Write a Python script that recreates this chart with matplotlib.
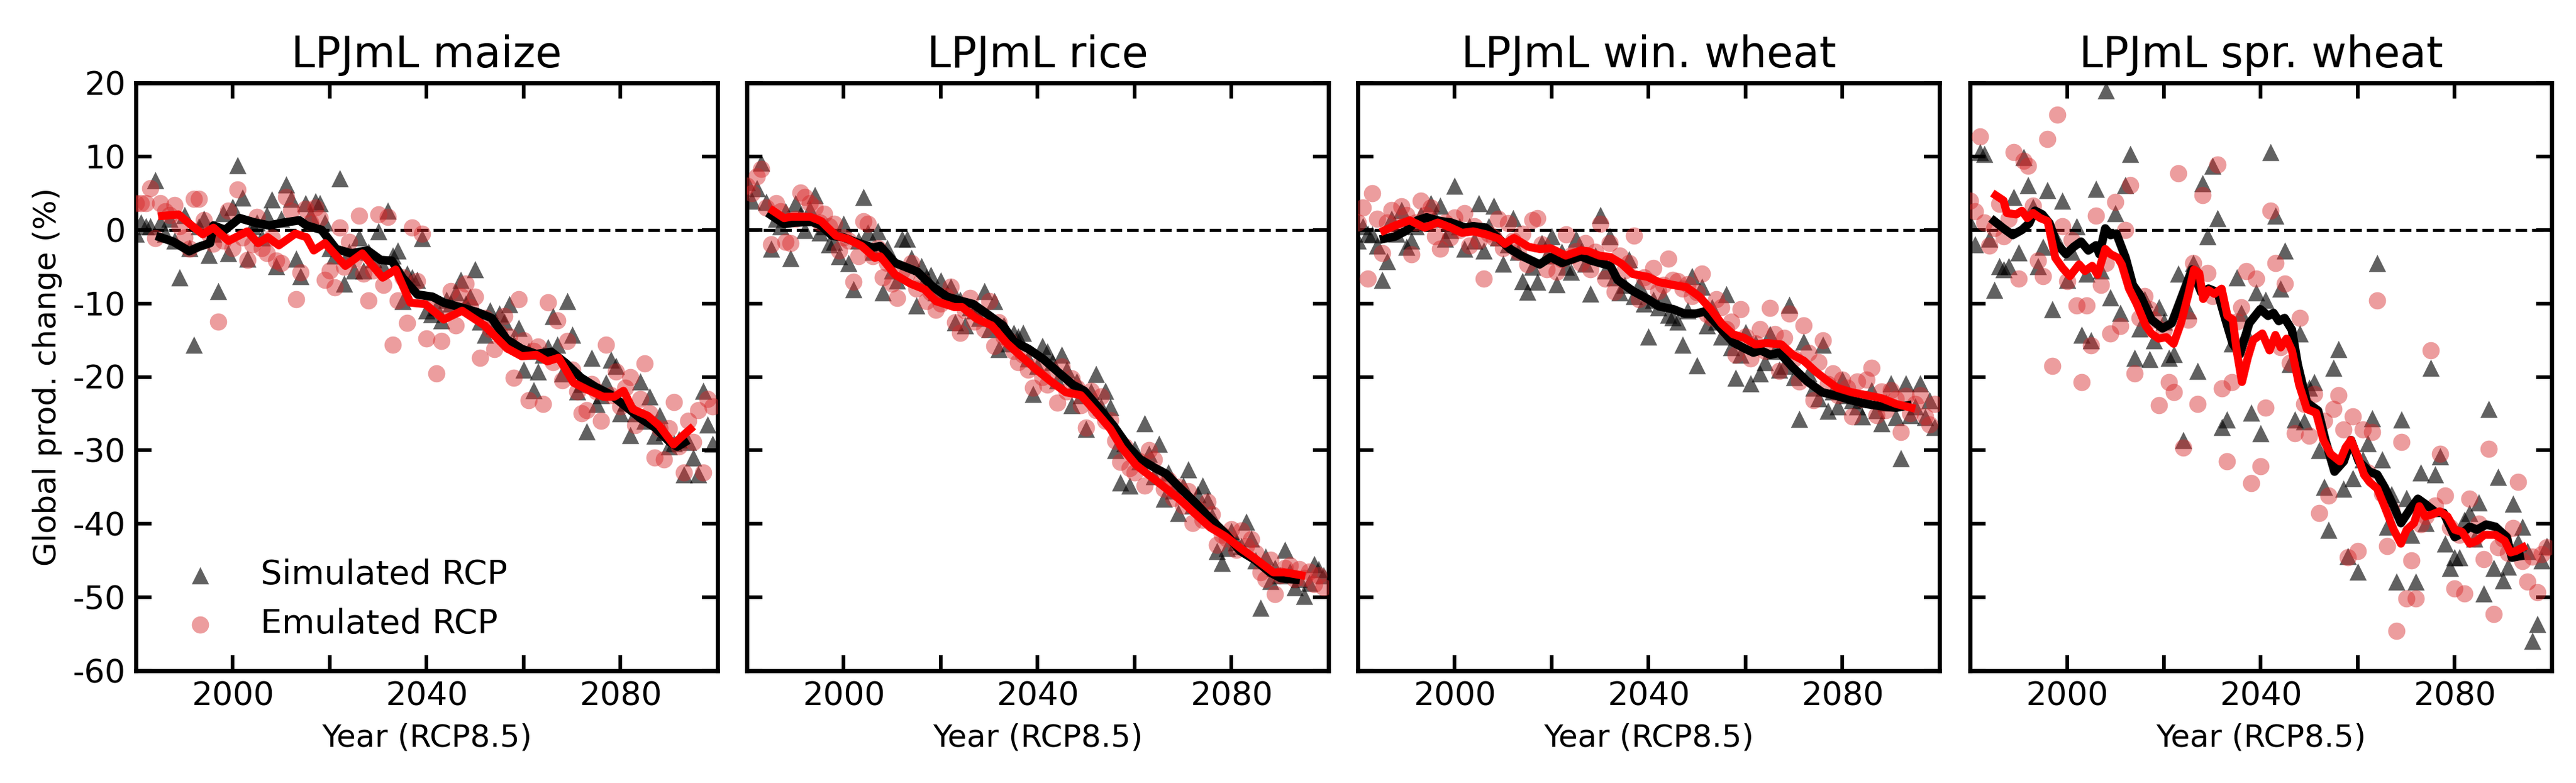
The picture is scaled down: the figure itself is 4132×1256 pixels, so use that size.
import numpy as np
import matplotlib
matplotlib.use("Agg")
import matplotlib.pyplot as plt

plt.rcParams['font.family'] = ['DejaVu Sans']
plt.rcParams['axes.unicode_minus'] = False

years = np.arange(1980, 2100)
titles = ["LPJmL maize", "LPJmL rice", "LPJmL win. wheat", "LPJmL spr. wheat"]
y_ticks = [20, 10, 0, -10, -20, -30, -40, -50, -60]
y_tick_labels = ["20", "10", "0", "-10", "-20", "-30", "-40", "-50", "-60"]
x_ticks = [2000, 2020, 2040, 2060, 2080]
x_tick_labels = ["2000", "", "2040", "", "2080"]

# ---------------- maize ----------------
maize_sim = [
    -0.5, 1.0, 0.5, 0.5, 6.8, 1.0, -0.5, 1.5, -1.5, -6.5,
    2.0, -2.5, -15.6, 0.5, 1.5, -3.4, -0.5, -8.3, 2.3, -3.2,
    3.1, 8.8, 4.4, -3.9, 0.5, 1.0, -1.0, 2.0, 4.1, -4.9,
    1.5, 6.2, 4.2, -3.9, -6.3, 3.6, 2.0, 3.9, 3.6, 1.0,
    -2.5, -3.5, 7.0, -7.3, -3.0, -5.5, -1.0, -5.5, -3.0, -4.0,
    -0.2, -5.0, 2.6, -3.5, -2.8, -9.7, -6.0, -6.5, -6.8, -1.1,
    -11.0, -11.5, -10.5, -12.3, -9.5, -10.0, -8.5, -6.8, -10.0, -9.1,
    -5.4, -12.5, -14.3, -11.0, -13.0, -11.4, -12.5, -10.1, -15.5, -13.3,
    -19.0, -16.5, -21.8, -19.3, -17.0, -16.0, -11.7, -15.6, -19.5, -9.7,
    -14.3, -22.0, -21.0, -27.4, -17.4, -23.7, -22.5, -20.8, -17.7, -18.5,
    -25.0, -23.5, -27.9, -25.0, -20.6, -26.0, -22.7, -28.0, -25.2, -27.5,
    -29.5, -29.0, -28.5, -33.3, -28.9, -31.0, -33.3, -21.9, -26.5, -29.1]
maize_emu = [
    3.6, 3.6, 3.6, 5.7, -1.1, 3.6, 2.5, 2.0, 3.4, 0.5,
    -1.0, -2.6, 4.2, 4.2, 1.3, -0.5, -1.9, -12.5, -1.5, 2.6,
    -2.5, 5.5, -1.0, -4.1, -2.0, 1.8, -2.5, -3.2, -1.0, -4.2,
    -4.5, 4.5, 2.6, -9.4, -5.8, 2.9, 1.0, 3.0, 1.6, -6.8,
    -5.5, -7.8, 0.3, -5.0, -1.6, -4.0, 1.9, -6.0, -9.6, -5.5,
    2.1, -7.5, 1.8, -15.6, -9.6, -6.5, -12.7, 0.3, -7.0, -0.5,
    -14.8, -10.0, -19.5, -15.1, -11.0, -8.3, -13.0, -9.0, -7.3, -10.5,
    -9.1, -17.4, -12.0, -13.5, -16.2, -14.0, -11.7, -14.5, -20.1, -9.4,
    -15.0, -23.2, -16.5, -15.9, -23.7, -9.9, -18.0, -12.3, -20.5, -15.1,
    -19.0, -22.0, -25.0, -24.5, -21.0, -22.0, -26.0, -15.6, -22.5, -19.3,
    -24.0, -21.5, -20.0, -26.6, -23.0, -18.2, -25.0, -31.0, -27.0, -31.2,
    -27.0, -23.4, -29.5, -33.0, -26.0, -28.9, -24.5, -33.0, -23.0, -24.0]
maize_sim_line_x = [1985, 1987.7, 1991, 1993, 1995.3, 1996, 1998.4, 2001.4, 2004.5, 2007.5,
                    2010.6, 2013.7, 2015.2, 2018.3, 2021.3, 2024.4, 2027.8, 2030.5, 2032.8, 2035,
                    2038.1, 2041.2, 2043.5, 2047.3, 2050.4, 2053.4, 2056.5, 2059.6, 2062.6, 2065.7,
                    2068.8, 2071.8, 2074.9, 2077.9, 2081, 2084, 2087.1, 2090.2, 2091.7, 2093.2]
maize_sim_line_y = [-1.0, -1.6, -2.9, -2.3, -1.8, 0.6, 0.0, 1.6, 1.0, 0.6,
                    1.0, 1.3, 0.6, 0.0, -2.6, -3.2, -2.8, -4.1, -4.2, -6.5,
                    -8.8, -9.1, -9.9, -10.6, -11.2, -12.0, -14.9, -16.2, -16.9, -16.6,
                    -18.2, -20.1, -21.4, -22.4, -24.0, -25.6, -26.9, -28.9, -29.5, -28.9]
maize_emu_line_x = [1985.4, 1988.8, 1991.5, 1993.8, 1996, 1999.1, 2003, 2005.2, 2007.2, 2009.5,
                    2012.9, 2015.2, 2016.7, 2019, 2023.2, 2026.7, 2030.9, 2033.6, 2036.6, 2039.7,
                    2043.5, 2047.3, 2051.9, 2056.5, 2059.6, 2062.6, 2064.9, 2067.2, 2070.3, 2073.3,
                    2076.4, 2078.7, 2080.6, 2082.5, 2085.6, 2087.9, 2090.9, 2092.5, 2094.4]
maize_emu_line_y = [1.9, 2.1, 0.6, -0.6, 0.3, -1.5, -0.2, -1.8, -1.0, -2.1,
                    -0.5, -1.0, -2.8, -1.8, -4.9, -3.2, -6.5, -5.4, -9.9, -10.1,
                    -12.2, -11.0, -13.0, -16.1, -17.2, -17.0, -17.9, -17.4, -20.8, -21.8,
                    -22.7, -22.7, -21.9, -24.4, -25.3, -26.6, -29.2, -28.2, -27.1]

# ---------------- rice ----------------
rice_sim = [
    6.5, 4.0, 5.7, 9.1, 3.8, -2.6, 1.5, 0.5, 2.5, -3.8,
    3.6, 2.0, 0.0, 2.8, 4.7, -0.4, 0.5, -2.0, -1.6, -3.6,
    0.8, -4.5, -8.1, -1.5, 4.5, -0.4, -3.0, -0.2, -8.5, -2.5,
    -5.5, -6.9, -1.2, -1.2, -3.8, -10.3, -4.9, -6.5, -6.1, -8.5,
    -6.9, -9.0, -7.7, -12.6, -9.5, -13.0, -10.5, -11.0, -12.0, -8.3,
    -13.5, -9.7, -16.2, -13.0, -15.5, -14.0, -14.5, -14.0, -17.5, -22.3,
    -18.5, -15.8, -16.6, -18.0, -20.5, -17.0, -19.0, -23.9, -20.6, -22.5,
    -27.1, -22.0, -19.6, -24.0, -21.9, -24.1, -30.0, -34.4, -29.0, -34.8,
    -29.8, -31.5, -26.3, -30.5, -33.5, -29.1, -36.6, -33.0, -35.5, -38.5,
    -34.8, -32.6, -37.5, -36.0, -34.8, -36.8, -39.0, -43.7, -45.3, -43.3,
    -41.0, -42.5, -43.0, -39.7, -42.0, -45.0, -51.4, -44.5, -47.8, -46.0,
    -47.0, -43.5, -46.5, -48.6, -47.5, -49.8, -48.0, -45.5, -46.2, -47.0]
rice_emu = [
    6.0, 5.0, 7.3, 8.3, 3.0, -2.0, 3.6, 2.5, -1.6, -1.8,
    1.5, 5.1, 4.5, 3.6, 3.0, 1.0, 2.2, 0.5, 0.8, -2.8,
    -1.0, -1.5, -7.1, -3.6, 1.2, 0.8, -3.6, -2.5, -6.5, -4.5,
    -7.3, -9.3, -5.5, -6.0, -4.5, -8.0, -7.0, -9.7, -8.5, -10.9,
    -10.0, -9.0, -7.7, -12.6, -14.0, -11.0, -9.3, -12.5, -11.5, -13.5,
    -9.7, -15.8, -12.6, -14.5, -15.0, -16.5, -18.0, -17.0, -19.0, -21.5,
    -18.5, -20.0, -21.1, -19.5, -23.5, -18.6, -22.0, -20.2, -21.5, -23.9,
    -26.9, -21.9, -24.5, -22.7, -26.0, -25.9, -28.7, -31.6, -29.5, -32.4,
    -33.0, -31.5, -34.8, -30.0, -31.2, -33.5, -35.2, -34.0, -36.5, -35.0,
    -37.5, -35.6, -39.9, -38.0, -39.5, -37.0, -38.7, -42.9, -41.5, -42.0,
    -40.7, -43.5, -40.9, -43.0, -42.1, -44.0, -46.6, -47.5, -44.9, -49.6,
    -47.0, -46.0, -45.7, -47.5, -46.2, -47.4, -46.5, -48.2, -47.0, -48.6]
rice_sim_line_x = [1985, 1987.7, 1990, 1993.4, 1995.3, 1997.6, 1999.9, 2003, 2006, 2007.5,
                   2010.6, 2012.9, 2015.2, 2018.3, 2021.3, 2024.4, 2026.7, 2029.7, 2032.8, 2035.1,
                   2038.1, 2041.2, 2044.3, 2047.3, 2049.6, 2052.7, 2055.7, 2058.8, 2061.1, 2064.2,
                   2066.5, 2069.5, 2072.6, 2075.6, 2078.7, 2081.8, 2084.8, 2087.9, 2090.2, 2093.2]
rice_sim_line_y = [2.0, 0.8, 1.0, 1.1, 0.6, -0.8, -1.0, -1.8, -2.4, -2.2,
                   -4.5, -5.1, -5.7, -7.7, -9.1, -9.7, -10.1, -11.5, -13.0, -15.2,
                   -16.2, -17.6, -19.4, -21.1, -21.9, -24.3, -26.7, -29.6, -31.2, -32.4,
                   -33.2, -35.2, -37.2, -39.3, -41.3, -43.7, -44.9, -46.6, -47.4, -47.6]
rice_emu_line_x = [1985.4, 1987.7, 1989.2, 1993, 1995.3, 1998.4, 2000.7, 2003.7, 2006.4, 2007.5,
                   2010.6, 2013.7, 2016.7, 2019, 2022.8, 2024.4, 2027.4, 2030.5, 2033.6, 2036.6,
                   2039.7, 2042.7, 2045.8, 2048.9, 2051.9, 2055, 2057.3, 2060.3, 2063.4, 2066.5,
                   2069.5, 2072.6, 2075.6, 2078.7, 2081.8, 2084.8, 2088.6, 2090.9, 2094.4]
rice_emu_line_y = [2.6, 1.6, 1.8, 1.8, 1.2, -0.8, -1.2, -2.2, -3.8, -3.6,
                   -6.1, -7.3, -8.1, -9.7, -10.5, -10.5, -12.1, -13.0, -15.4, -17.2,
                   -19.0, -20.6, -22.1, -22.5, -24.7, -27.1, -29.6, -32.0, -33.6, -35.2,
                   -36.8, -38.7, -40.5, -41.7, -43.3, -44.7, -46.6, -46.6, -47.0]

# ---------------- winter wheat ----------------
wwheat_sim = [
    -1.5, 0.5, -0.5, -0.6, -2.1, -6.8, -4.3, 1.5, -0.5, 2.7,
    -2.3, -1.5, 0.5, 2.0, 1.0, 3.6, 1.5, 3.3, -1.2, 0.0,
    6.0, 0.5, -2.6, 0.5, -1.5, 3.6, -2.8, 0.5, 3.3, -1.0,
    -4.6, -2.0, 1.6, -3.0, -7.0, -8.4, -5.0, -7.1, -1.8, -3.5,
    -0.9, -7.4, -3.0, -5.0, -5.7, -1.2, -3.0, -4.6, -8.7, -3.5,
    2.0, -5.5, -0.9, -6.5, -8.5, -7.5, -4.0, -9.0, -7.5, -10.0,
    -14.5, -9.5, -10.5, -9.0, -11.6, -11.9, -12.5, -15.6, -11.0, -6.3,
    -18.4, -7.7, -13.0, -10.5, -12.5, -14.5, -8.8, -16.0, -20.1, -17.0,
    -13.9, -20.9, -15.5, -19.5, -18.0, -14.2, -16.5, -19.0, -18.5, -10.2,
    -20.0, -25.7, -15.2, -19.5, -21.5, -22.9, -15.6, -24.6, -22.0, -24.0,
    -20.4, -22.5, -23.2, -24.0, -25.4, -23.0, -21.8, -24.5, -26.3, -23.5,
    -20.9, -25.5, -31.1, -20.9, -25.2, -24.0, -20.9, -25.5, -23.2, -26.8]
wwheat_emu = [
    1.0, 3.0, -6.6, 5.0, 1.5, -3.2, 1.0, 2.7, 0.5, 3.2,
    2.0, -3.3, 1.0, 4.0, 2.0, 3.0, -0.9, -2.6, 1.0, -1.0,
    1.7, 0.0, 2.3, -2.1, 0.5, -1.5, -6.6, -0.5, -1.0, 1.5,
    -2.5, 0.9, -1.5, -3.0, -0.5, -4.7, 1.3, 1.6, -2.0, -5.4,
    -3.5, -5.7, -4.0, -0.6, -3.5, -2.9, -4.5, -1.8, -5.4, -3.0,
    0.8, -6.6, -1.8, -8.4, -3.5, -5.5, -4.5, -0.8, -9.4, -6.5,
    -7.0, -5.2, -8.3, -7.5, -3.9, -6.8, -7.0, -8.0, -7.4, -9.0,
    -8.5, -6.0, -11.5, -12.0, -9.4, -10.5, -13.5, -12.5, -17.0, -10.8,
    -14.5, -17.5, -15.5, -13.5, -16.5, -10.6, -14.2, -19.2, -14.7, -11.4,
    -17.5, -20.6, -13.0, -16.7, -23.2, -18.0, -15.0, -21.0, -19.5, -22.5,
    -20.4, -21.5, -25.4, -20.6, -23.0, -20.4, -18.8, -25.2, -22.0, -24.5,
    -21.8, -23.0, -27.5, -22.6, -25.0, -23.7, -22.5, -25.4, -26.5, -23.7]
wwheat_sim_line_x = [1985.4, 1987.7, 1990, 1992.3, 1994.2, 1996.9, 1999.2, 2002.2, 2003.8, 2006.4,
                     2009.1, 2011.4, 2013.7, 2017.5, 2019.8, 2022.1, 2026, 2028.3, 2032.1, 2033.6,
                     2036.7, 2039.8, 2042.1, 2045.1, 2047.4, 2049.7, 2051.6, 2053.6, 2055.9, 2057.4,
                     2059.7, 2061.6, 2063.1, 2065.1, 2067, 2069.7, 2072.7, 2075.8, 2078.9, 2081.9,
                     2085, 2088, 2091.1, 2093.4]
wwheat_sim_line_y = [-1.2, -0.9, -0.1, 1.3, 1.7, 1.2, 1.0, 0.3, 0.5, 0.3,
                     -1.2, -2.6, -3.5, -4.7, -3.7, -4.5, -3.6, -4.2, -4.9, -6.8,
                     -8.3, -9.4, -10.4, -10.8, -11.4, -11.4, -11.1, -12.5, -14.2, -15.3,
                     -16.1, -16.7, -16.4, -17.0, -16.7, -18.7, -20.6, -22.1, -22.6, -23.2,
                     -23.7, -24.0, -24.2, -23.9]
wwheat_emu_line_x = [1985.4, 1987.7, 1990.7, 1993.8, 1996.5, 1999.2, 2001.5, 2003.8, 2006.4, 2009.1,
                     2010.3, 2012.2, 2015.2, 2017.5, 2019.8, 2022.9, 2026, 2027.5, 2029.8, 2032.1,
                     2034.4, 2036.7, 2039.8, 2042.1, 2045.1, 2047.8, 2050.5, 2052.8, 2055.1, 2057.4,
                     2059.7, 2062, 2064.3, 2067.4, 2069.7, 2072, 2074.3, 2076.6, 2078.9, 2081.9,
                     2085, 2088, 2091.1, 2094.2]
wwheat_emu_line_y = [-0.1, 0.6, 1.3, 0.3, 1.0, 0.3, -0.4, -0.2, -0.6, -1.2,
                     -1.9, -1.1, -2.3, -2.6, -2.5, -3.5, -2.8, -2.9, -3.5, -3.7,
                     -4.6, -6.0, -6.4, -7.1, -7.5, -7.8, -9.1, -10.8, -12.8, -14.2,
                     -14.7, -15.6, -15.4, -15.6, -17.0, -17.8, -19.2, -20.4, -21.5, -22.1,
                     -22.5, -22.9, -23.7, -24.2]

# ---------------- spring wheat ----------------
swheat_sim = [
    1.0, -2.0, 10.6, 10.3, -1.2, -8.2, -4.9, -5.4, -4.9, 4.5,
    -3.1, 9.9, 6.1, 3.1, -4.9, -2.3, 5.4, -10.8, -1.5, 4.0,
    -6.8, -3.0, 0.5, -14.3, -6.0, -15.0, 5.6, -5.5, 19.0, -9.2,
    2.3, -11.3, 6.1, 10.3, -17.4, -13.4, -9.4, -17.6, -15.0, -10.5,
    -12.5, -17.4, -16.9, -6.0, -28.6, -11.0, -4.5, -19.2, 6.3, -0.9,
    8.7, 1.6, -26.8, -25.8, -15.5, -6.5, -11.3, -14.0, -24.9, -8.5,
    -27.7, -9.5, 10.6, 1.9, -8.0, -2.8, -18.3, -25.8, -14.1, -26.1,
    -21.5, -20.7, -30.0, -35.0, -40.8, -18.8, -16.2, -35.2, -44.4, -33.8,
    -46.5, -31.2, -29.0, -25.6, -4.5, -31.2, -40.4, -36.0, -47.9, -25.8,
    -36.5, -41.5, -47.9, -33.0, -39.9, -18.8, -33.3, -30.8, -42.7, -46.0,
    -44.6, -44.6, -39.5, -38.5, -42.0, -37.1, -49.5, -24.4, -46.0, -33.6,
    -47.7, -45.8, -37.3, -42.5, -40.4, -43.7, -55.9, -53.6, -45.0, -43.0]
swheat_emu = [
    4.0, 2.5, 12.7, 1.0, -2.1, 0.2, 3.5, -0.9, 1.5, 10.6,
    -6.6, 9.4, 8.7, 3.3, -4.2, -6.3, 12.4, -18.5, 15.7, 0.5,
    -7.0, -1.4, -10.3, -20.7, -10.3, -15.7, 1.9, -7.5, -4.5, -14.1,
    3.8, -13.1, 0.0, 6.1, -19.5, -12.0, -9.0, -10.8, -12.2, -23.9,
    -13.6, -20.7, -22.1, 7.7, -29.6, -12.2, -4.5, -23.7, 4.7, -5.9,
    -9.0, 8.9, -21.6, -31.5, -20.7, -12.5, -10.5, -5.6, -34.5, -6.6,
    -32.2, -24.2, 2.6, -4.5, -16.0, -7.3, -18.1, -27.7, -12.0, -23.7,
    -28.0, -22.3, -38.5, -26.0, -36.2, -24.4, -22.5, -27.2, -44.6, -25.4,
    -43.7, -27.2, -33.0, -27.5, -9.6, -35.9, -43.0, -38.0, -54.6, -28.9,
    -50.2, -45.0, -50.2, -40.1, -39.0, -16.4, -37.5, -30.5, -36.2, -40.5,
    -48.8, -41.5, -49.5, -36.6, -42.0, -40.0, -44.8, -29.8, -52.3, -43.2,
    -42.0, -44.0, -40.6, -34.3, -45.1, -47.9, -44.5, -49.3, -44.1, -43.2]
swheat_sim_line_x = [1985, 1986.9, 1988.8, 1990.7, 1992.2, 1993.4, 1994.9, 1996.4, 1997.9, 1999.8,
                     2001.4, 2002.9, 2004.4, 2006, 2006.7, 2007.9, 2009, 2010.2, 2012.1, 2013.6,
                     2015.1, 2017.4, 2019.7, 2021.6, 2022.7, 2024.3, 2025.8, 2027.7, 2029.2, 2031.1,
                     2032.7, 2034.2, 2035.7, 2037.6, 2039.9, 2041.5, 2042.6, 2043.7, 2044.9, 2046.4,
                     2047.6, 2049.5, 2051.8, 2053.3, 2055.2, 2057.1, 2058.6, 2060.2, 2062.4, 2064,
                     2065.5, 2067.4, 2068.9, 2070.8, 2072.4, 2073.9, 2076.2, 2077.7, 2080, 2081.5,
                     2083.1, 2084.6, 2086.5, 2088.4, 2090.7, 2091.8, 2093.4]
swheat_sim_line_y = [1.2, 0.2, -0.7, 0.0, 0.9, 2.6, 2.1, 0.9, -1.9, -3.3,
                     -2.3, -1.6, -2.8, -2.1, -3.3, 0.2, -0.7, -0.5, -3.8, -7.5,
                     -8.9, -12.2, -13.4, -12.7, -10.8, -8.0, -5.4, -8.5, -8.0, -8.5,
                     -12.2, -15.5, -16.9, -12.7, -10.8, -11.7, -11.3, -12.4, -12.0, -13.6,
                     -18.3, -23.5, -24.6, -28.6, -32.9, -31.5, -28.6, -31.5, -32.9, -33.3,
                     -35.0, -37.6, -39.9, -38.0, -36.6, -37.3, -38.5, -38.5, -41.8, -41.3,
                     -40.4, -40.8, -40.1, -40.4, -41.8, -44.6, -44.4]
swheat_emu_line_x = [1985.3, 1986.9, 1987.6, 1989.5, 1990.7, 1991.8, 1993, 1994.5, 1996, 1997.6,
                     1999.1, 2000.6, 2002.5, 2003.7, 2005.2, 2006.3, 2007.9, 2009, 2010.5, 2011.3,
                     2012.8, 2014.4, 2016.3, 2017.4, 2018.9, 2020.5, 2022, 2023.5, 2025, 2026.2,
                     2027.3, 2028.1, 2029.2, 2030.4, 2031.9, 2033.1, 2034.2, 2035, 2036.1, 2037.3,
                     2038.4, 2040.3, 2041.8, 2043, 2044.1, 2045.3, 2046.4, 2047.9, 2049.5, 2051.4,
                     2052.9, 2054.4, 2056.3, 2057.5, 2058.6, 2060.2, 2061.3, 2062.4, 2064, 2065.5,
                     2067.4, 2068.9, 2070.1, 2071.6, 2072.7, 2073.9, 2075.4, 2076.9, 2078.5, 2080,
                     2081.5, 2083.1, 2084.6, 2086.1, 2088.4, 2090.3, 2091.5, 2092.6, 2094.1]
swheat_emu_line_y = [4.7, 4.0, 2.3, 2.1, 2.6, 1.6, 2.3, 1.6, 1.2, -3.8,
                     -5.2, -6.3, -4.7, -5.6, -4.9, -6.1, -2.6, -3.3, -3.8, -4.7,
                     -8.0, -10.1, -13.1, -14.1, -14.8, -14.6, -15.5, -12.7, -8.9, -5.4,
                     -5.9, -9.4, -8.2, -8.7, -8.0, -11.7, -12.2, -16.4, -20.7, -17.4,
                     -15.0, -14.1, -16.4, -14.3, -16.0, -14.8, -16.4, -21.1, -24.4, -24.9,
                     -28.6, -30.5, -31.5, -29.6, -28.6, -31.2, -33.3, -34.3, -35.2, -37.6,
                     -40.8, -42.7, -40.8, -39.9, -37.6, -39.0, -38.7, -38.3, -39.0, -40.8,
                     -41.1, -42.7, -42.3, -41.5, -41.5, -42.3, -43.9, -43.7, -43.2]

panels = [
    (maize_sim, maize_emu, maize_sim_line_x, maize_sim_line_y, maize_emu_line_x, maize_emu_line_y),
    (rice_sim, rice_emu, rice_sim_line_x, rice_sim_line_y, rice_emu_line_x, rice_emu_line_y),
    (wwheat_sim, wwheat_emu, wwheat_sim_line_x, wwheat_sim_line_y, wwheat_emu_line_x, wwheat_emu_line_y),
    (swheat_sim, swheat_emu, swheat_sim_line_x, swheat_sim_line_y, swheat_emu_line_x, swheat_emu_line_y),
]

W, H, DPI = 4132, 1256, 300
fig = plt.figure(figsize=(W / DPI, H / DPI), dpi=DPI)
lefts_px = [218, 1198, 2178, 3160]
ax_w_px = 933
bottom = 1 - 1076 / H
height = (1076 - 133) / H

for i, (sim, emu, slx, sly, elx, ely) in enumerate(panels):
    ax = fig.add_axes([lefts_px[i] / W, bottom, ax_w_px / W, height])
    ax.axhline(0, color='black', lw=1.2, ls='--', zorder=1)
    h1 = ax.scatter(years, sim, marker='^', s=44, color='black', alpha=0.62,
                    linewidths=0, zorder=2, label='Simulated RCP')
    h2 = ax.scatter(years, emu, marker='o', s=44, color='#d62728', alpha=0.45,
                    linewidths=0, zorder=3, label='Emulated RCP')
    ax.plot(slx, sly, color='black', lw=3.3, zorder=4)
    ax.plot(elx, ely, color='red', lw=3.1, zorder=5)
    ax.set_xlim(1980, 2100)
    ax.set_ylim(-60, 20)
    ax.set_yticks(y_ticks)
    ax.set_xticks(x_ticks)
    ax.set_xticklabels(x_tick_labels)
    if i == 0:
        ax.set_yticklabels(y_tick_labels)
        ax.set_ylabel("Global prod. change (%)", fontsize=12)
        ax.legend(handles=[h1, h2], loc='lower left', frameon=False,
                  fontsize=13, scatterpoints=1)
    else:
        ax.set_yticklabels([])
    ax.tick_params(direction='in', top=True, right=True, length=6, width=1.4,
                   labelsize=12.5, pad=4)
    for sp in ax.spines.values():
        sp.set_linewidth(1.6)
    ax.set_xlabel("Year (RCP8.5)", fontsize=12)
    ax.set_title(titles[i], fontsize=16.5, pad=6)

fig.savefig("out.png", dpi=DPI)
